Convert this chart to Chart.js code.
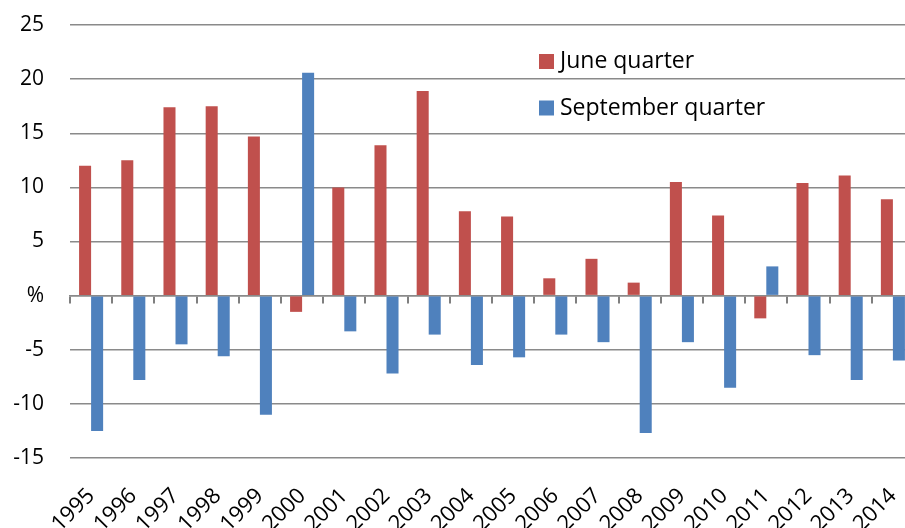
<!DOCTYPE html>
<html>
<head>
  <title>June vs September quarter</title>
  <script src="https://cdn.jsdelivr.net/npm/chart.js@4/dist/chart.umd.min.js"></script>
  <style>
    body { margin: 0; overflow: hidden; background: #fff; }
    #wrap { width: 905px; height: 528px; overflow: hidden; }
  </style>
</head>
<body>
<div id="wrap"><canvas id="chart" width="920" height="528"></canvas></div>
<script>
var years = ['1995','1996','1997','1998','1999','2000','2001','2002','2003','2004',
             '2005','2006','2007','2008','2009','2010','2011','2012','2013','2014'];
var juneQuarter = [12.0, 12.5, 17.4, 17.5, 14.7, -1.5, 10.0, 13.9, 18.9, 7.8,
                   7.3, 1.6, 3.4, 1.2, 10.5, 7.4, -2.1, 10.4, 11.1, 8.9];
var septQuarter = [-12.5, -7.8, -4.5, -5.6, -11.0, 20.6, -3.3, -7.2, -3.6, -6.4,
                   -5.7, -3.6, -4.3, -12.7, -4.3, -8.5, 2.7, -5.5, -7.8, -6.0];
var yTicks = [-15, -10, -5, 0, 5, 10, 15, 20, 25];

var fontName = '"Open Sans", "Noto Sans", sans-serif';
var gridGrey = '#8a8a8a';

// legend sits inside the plot, top-right, like the original
var cornerLegend = {
  id: 'cornerLegend',
  afterDraw(chart) {
    var ctx = chart.ctx;
    ctx.save();
    ctx.font = '23px ' + fontName;
    ctx.textBaseline = 'middle';
    chart.data.datasets.forEach(function (ds, i) {
      var y = 61.5 + i * 46.5;
      ctx.fillStyle = ds.backgroundColor;
      ctx.fillRect(539, y - 7.5, 15, 15);
      ctx.fillStyle = '#000';
      ctx.fillText(ds.label, 560, y);
    });
    ctx.restore();
  }
};

new Chart(document.getElementById('chart'), {
  type: 'bar',
  data: {
    labels: years,
    datasets: [{
      label: 'June quarter',
      data: juneQuarter,
      backgroundColor: '#C0504D',
      categoryPercentage: 0.57,
      barPercentage: 1.0
    }, {
      label: 'September quarter',
      data: septQuarter,
      backgroundColor: '#4F81BD',
      categoryPercentage: 0.57,
      barPercentage: 1.0
    }]
  },
  options: {
    responsive: false,
    animation: false,
    layout: { padding: { top: 25, right: 6, left: 0, bottom: 0 } },
    plugins: { legend: { display: false }, tooltip: { enabled: false } },
    scales: {
      x: {
        position: 'bottom',
        offset: true,
        grid: { display: false },
        border: { display: false },
        ticks: {
          color: '#000',
          font: { family: fontName, size: 22 },
          minRotation: 45,
          maxRotation: 45,
          padding: 17,
          autoSkip: false
        },
        afterFit: function (scale) {
          scale.height = 70;
          scale.paddingLeft = 0;
          scale.paddingRight = 0;
        }
      },
      xZero: {
        type: 'category',
        labels: years,
        position: { y: 0 },
        offset: true,
        grid: {
          offset: true,
          drawOnChartArea: false,
          drawTicks: true,
          tickLength: 7,
          color: '#7f7f7f',
          lineWidth: 2
        },
        border: { display: true, color: gridGrey, width: 1.5 },
        ticks: { display: false },
        afterFit: function (scale) {
          scale.paddingLeft = 0;
          scale.paddingRight = 0;
        }
      },
      y: {
        min: -15,
        max: 25,
        afterBuildTicks: function (scale) {
          scale.ticks = yTicks.map(function (v) { return { value: v }; });
        },
        grid: { color: gridGrey, lineWidth: 1.5, drawTicks: false },
        border: { display: false },
        ticks: {
          color: '#000',
          font: { family: fontName, size: 21 },
          padding: 26,
          callback: function (v) { return v === 0 ? '%' : v; }
        },
        afterFit: function (scale) {
          scale.width = 70;
          scale.paddingTop = 0;
          scale.paddingBottom = 0;
        }
      }
    }
  },
  plugins: [cornerLegend]
});
</script>
</body>
</html>
